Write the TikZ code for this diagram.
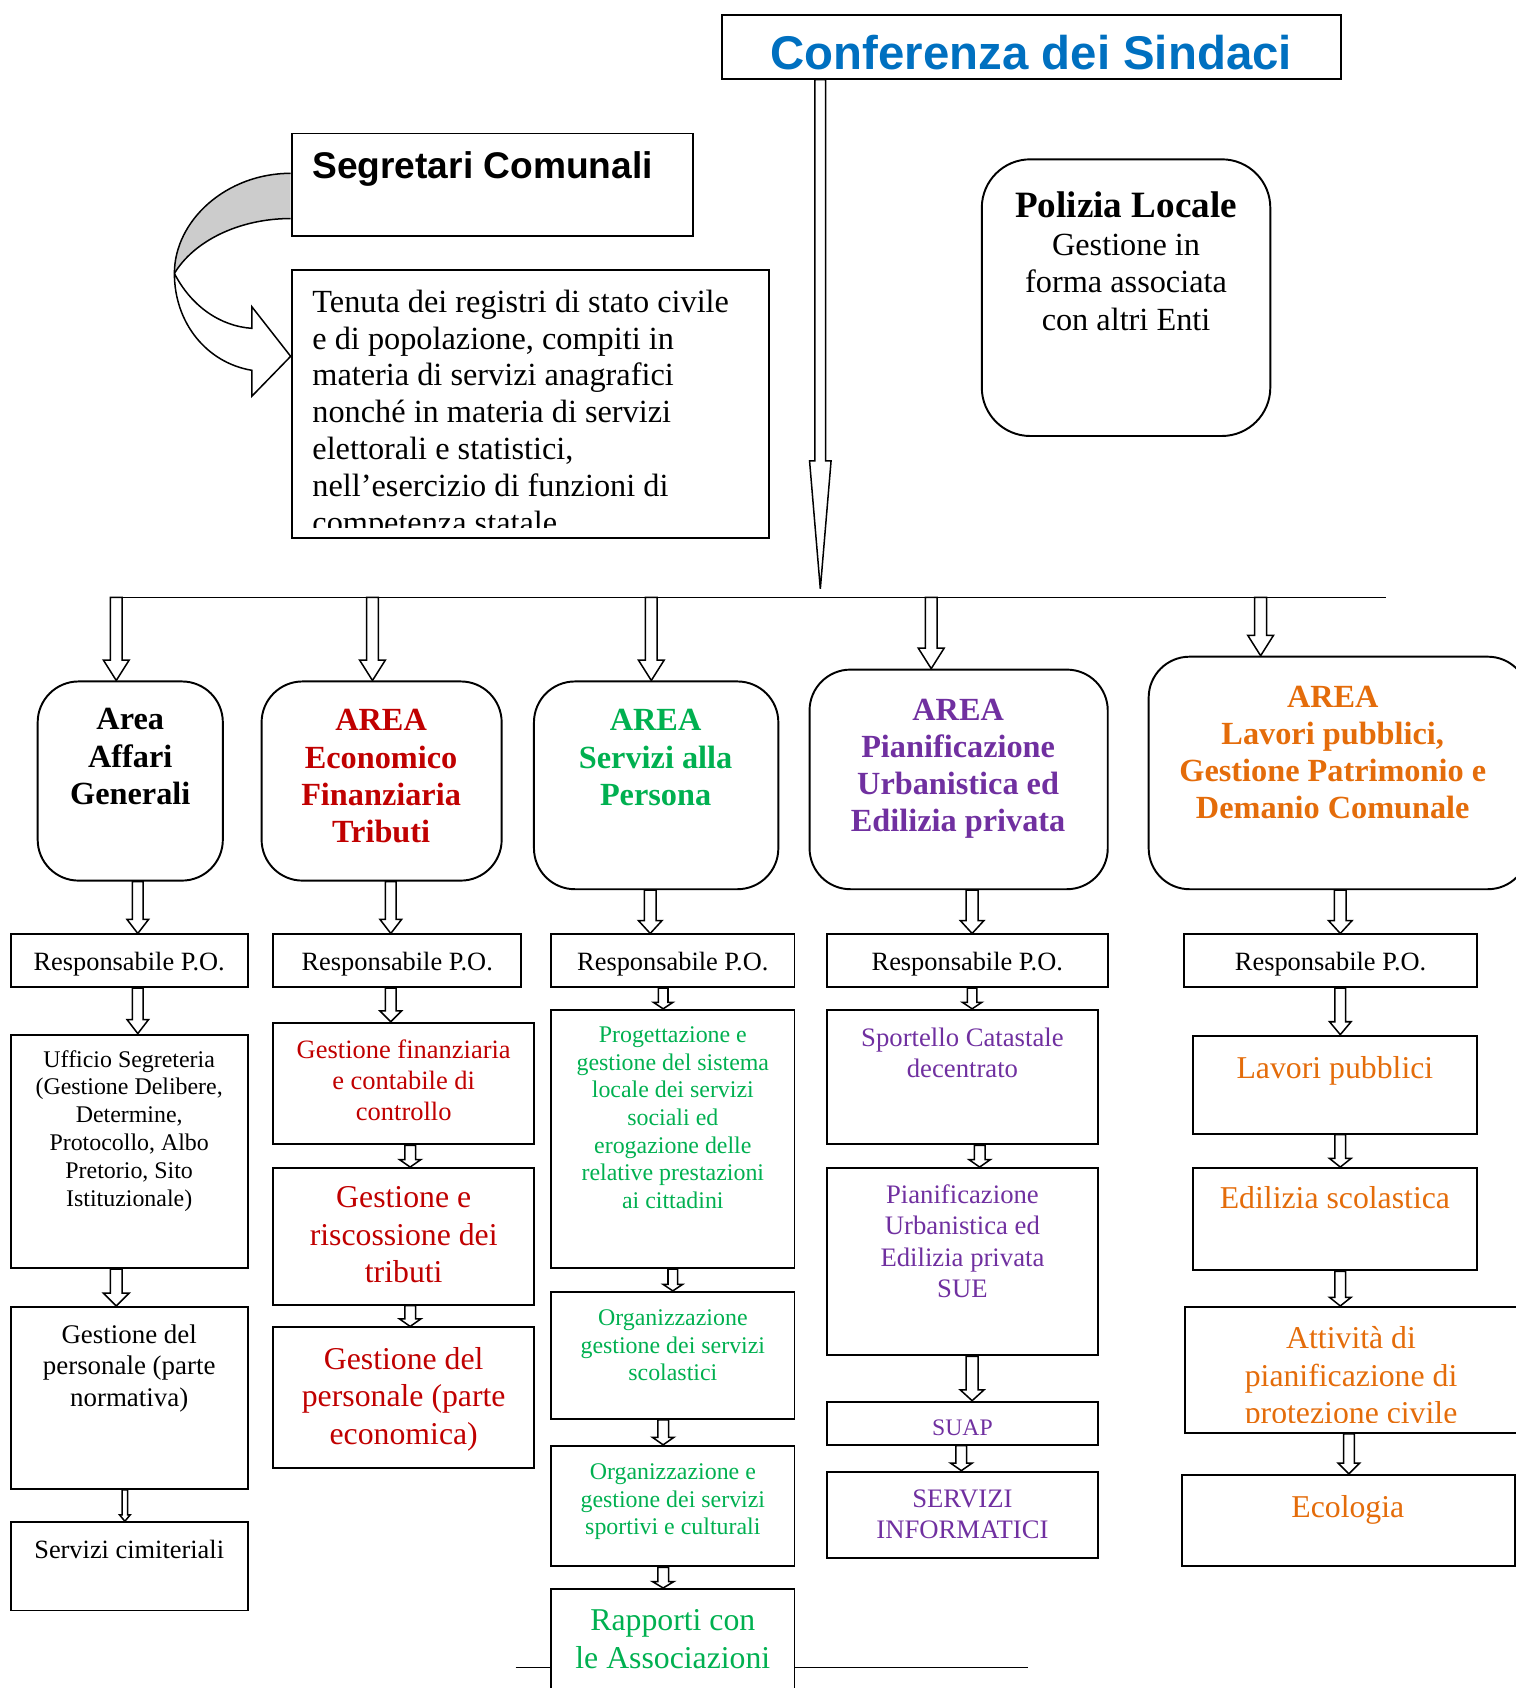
\documentclass[tikz,border=0pt]{standalone}
\usepackage{fontspec}
\setmainfont{Liberation Serif}
\newfontfamily\arialf{Liberation Sans}
\usetikzlibrary{calc}
\definecolor{cblue}{HTML}{0070C0}
\definecolor{cred}{HTML}{C00000}
\definecolor{cgreen}{HTML}{00B050}
\definecolor{cpurple}{HTML}{7030A0}
\definecolor{corange}{HTML}{E46C0A}
\newcommand\fsz[2]{\fontsize{#1}{#2}\selectfont}
\tikzset{
  bx/.style={draw, line width=1.8pt, inner sep=0pt, rectangle},
  rbx/.style={bx, rounded corners=38pt},
  barrow/.style={draw, line width=1.4pt, fill=white, line join=miter},
  txt/.style={inner sep=0pt, align=center, anchor=north},
  one/.style={inner sep=0pt, anchor=base},
  thinline/.style={line width=1.2pt},
}
% box from corners: [style] x1 y1 x2 y2 name
\newcommand\mkbox[6][]{\node[bx,#1,minimum width={#4-#2},minimum height={#5-#3}] (#6) at ({(#2+#4)/2},{(#3+#5)/2}) {};}
% block arrow: x, from, to, shaft width, head width, head length
\newcommand\barr[6]{%
  \draw[barrow] let \p1=(#2), \p2=(#3) in
  ({#1pt-#4pt/2},\y1) -- ({#1pt-#4pt/2},{\y2+#6pt}) -- ({#1pt-#5pt/2},{\y2+#6pt}) --
  ({#1pt},\y2) -- ({#1pt+#5pt/2},{\y2+#6pt}) -- ({#1pt+#4pt/2},{\y2+#6pt}) --
  ({#1pt+#4pt/2},\y1) -- cycle;}
\begin{document}
\begin{tikzpicture}[x=1pt,y=-1pt]
\useasboundingbox (0,0) rectangle (1408,1568);
\clip (0,0) rectangle (1408,1568);

% ---- top ----
\mkbox{671}{14}{1246}{73}{conf}
\node[one, font=\arialf\bfseries\fsz{44}{50}, text=cblue] (conft) at (958,65) {Conferenza dei Sindaci};

\mkbox{271}{124}{644}{219}{seg}
\node[inner sep=0pt, anchor=base west, font=\arialf\bfseries\fsz{34.5}{40}] (segt) at (290,166) {Segretari Comunali};

\mkbox{271}{251}{714}{500}{ten}
\begin{scope}
\clip (271,251) rectangle (714,490);
\node[inner sep=0pt, anchor=north west, align=left, font=\fsz{30}{34.2}] (tent) at (290,269)
 {Tenuta dei registri di stato civile\\e di popolazione, compiti in\\materia di servizi anagrafici\\nonché in materia di servizi\\elettorali e statistici,\\nell’esercizio di funzioni di\\competenza statale};
\end{scope}

\mkbox[rounded corners=45pt]{912}{148}{1180}{405}{pol}
\node[txt, font=\fsz{30}{35}] (polt) at (1046,178)
 {{\bfseries\fsz{34.5}{35}Polizia Locale}\\Gestione in\\forma associata\\con altri Enti};

% curved arrow
\fill[gray!40] (270,161) .. controls (210,161) and (162,205) .. (162,254)
  .. controls (180,224) and (222,203) .. (270,203) -- cycle;
\draw[line width=1.4pt, line join=miter] (270,161) .. controls (210,161) and (162,205) .. (162,254)
  .. controls (162,300) and (192,337) .. (234,344) -- (234,368) -- (270,331) -- (234,285) -- (234,305)
  .. controls (205,303) and (178,285) .. (162,254);
\draw[line width=1.4pt] (270,203) .. controls (222,203) and (180,224) .. (162,254);

% main arrow and bar
\coordinate (hub) at (762,547);
\barr{762}{conf.south}{hub}{10}{20}{119}
\coordinate (barL) at (102,555);
\coordinate (barR) at (1287,555);
\draw[thinline] (barL) -- (barR);
\coordinate (barY) at (0,555);

% ---- areas ----
\mkbox[rbx]{35}{633}{207}{818}{a1}
\mkbox[rbx]{243}{633}{466}{818}{a2}
\mkbox[rbx]{496}{633}{723}{826}{a3}
\mkbox[rbx]{752}{622}{1029}{826}{a4}
\mkbox[rbx]{1067}{610}{1420}{826}{a5}
\node[txt, font=\bfseries\fsz{30}{34.5}] (a1t) at (121,658) {Area\\Affari\\Generali};
\node[txt, font=\bfseries\fsz{30}{34.5}, text=cred] (a2t) at (354,659) {AREA\\Economico\\Finanziaria\\Tributi};
\node[txt, font=\bfseries\fsz{30}{34.5}, text=cgreen] (a3t) at (609,659) {AREA\\Servizi alla\\Persona};
\node[txt, font=\bfseries\fsz{30}{34.5}, text=cpurple] (a4t) at (890,649) {AREA\\Pianificazione\\Urbanistica ed\\Edilizia privata};
\node[txt, font=\bfseries\fsz{30}{34.5}, text=corange] (a5t) at (1238,637) {AREA\\Lavori pubblici,\\Gestione Patrimonio e\\Demanio Comunale};

\barr{108}{barY}{a1.north}{11}{24}{19}
\barr{346}{barY}{a2.north}{11}{24}{19}
\barr{605}{barY}{a3.north}{11}{24}{19}
\barr{865}{barY}{a4.north}{11}{24}{19}
\barr{1171}{barY}{a5.north}{11}{24}{19}

% ---- responsabili ----
\mkbox{10}{868}{230}{917}{r1}
\mkbox{254}{868}{484}{917}{r2}
\mkbox{512}{868}{738}{917}{r3}
\mkbox{768}{868}{1029}{917}{r4}
\mkbox{1100}{868}{1372}{917}{r5}
\foreach \n/\cx in {r1/120,r2/369,r3/625,r4/898.5,r5/1236}
  \node[one, font=\fsz{24.5}{29}] (\n t) at (\cx,901.5) {Responsabile P.O.};

\barr{128}{a1.south}{r1.north}{10}{20}{13}
\barr{363}{a2.south}{r2.north}{10}{20}{13}
\barr{604}{a3.south}{r3.north}{11}{22}{12}
\barr{903}{a4.south}{r4.north}{11}{22}{12}
\barr{1245}{a5.south}{r5.north}{11}{22}{12}

% ---- column 1 ----
\mkbox{10}{961}{230}{1178}{u1}
\mkbox{10}{1214}{230}{1383}{g1}
\mkbox{10}{1414}{230}{1496}{s1}
\node[txt, font=\fsz{22.2}{25.8}] (u1t) at (120,975.5) {Ufficio Segreteria\\(Gestione Delibere,\\Determine,\\Protocollo, Albo\\Pretorio, Sito\\Istituzionale)};
\node[txt, font=\fsz{25}{29}] (g1t) at (120,1230.5) {Gestione del\\personale (parte\\normativa)};
\node[one, font=\fsz{24.5}{29}] (s1t) at (120,1448) {Servizi cimiteriali};
\barr{128}{r1.south}{u1.north}{10}{20}{13}
\barr{108}{u1.south}{g1.north}{11}{24}{12}
\barr{116}{g1.south}{s1.north}{5}{10}{6}

% ---- column 2 ----
\mkbox{254}{950}{496}{1063}{f2}
\mkbox{254}{1085}{496}{1212}{t2}
\mkbox{254}{1233}{496}{1364}{p2}
\node[txt, font=\fsz{24.6}{29}, text=cred] (f2t) at (375,965.5) {Gestione finanziaria\\e contabile di\\controllo};
\node[txt, font=\fsz{29.5}{35}, text=cred] (t2t) at (375,1102) {Gestione e\\riscossione dei\\tributi};
\node[txt, font=\fsz{29.5}{35}, text=cred] (p2t) at (375,1251) {Gestione del\\personale (parte\\economica)};
\barr{363}{r2.south}{f2.north}{10}{20}{10}
\barr{381}{f2.south}{t2.north}{10}{20}{7}
\barr{381}{t2.south}{p2.north}{10}{20}{7}

% ---- column 3 ----
\mkbox{512}{938}{738}{1178}{pg3}
\mkbox{512}{1200}{738}{1318}{o3}
\mkbox{512}{1343}{738}{1455}{sp3}
\mkbox{512}{1476}{738}{1590}{ra3}
\node[txt, font=\fsz{22.2}{25.7}, text=cgreen] (pg3t) at (625,953.5) {Progettazione e\\gestione del sistema\\locale dei servizi\\sociali ed\\erogazione delle\\relative prestazioni\\ai cittadini};
\node[txt, font=\fsz{22.2}{25.7}, text=cgreen] (o3t) at (625,1216.5) {Organizzazione\\gestione dei servizi\\scolastici};
\node[txt, font=\fsz{22.2}{25.7}, text=cgreen] (sp3t) at (625,1359.5) {Organizzazione e\\gestione dei servizi\\sportivi e culturali};
\node[txt, font=\fsz{29.5}{35}, text=cgreen] (ra3t) at (625,1495) {Rapporti con\\le Associazioni};
\barr{616}{r3.south}{pg3.north}{9}{18}{6}
\barr{625}{pg3.south}{o3.north}{9}{18}{6}
\barr{616}{o3.south}{sp3.north}{10}{20}{7}
\barr{616}{sp3.south}{ra3.north}{10}{20}{6}
\coordinate (bl1) at (479,1549);
\coordinate (bl2) at (955,1549);
\draw[thinline] (bl1) -- (ra3.west |- bl1);
\draw[thinline] (ra3.east |- bl2) -- (bl2);

% ---- column 4 ----
\mkbox{768}{938}{1020}{1063}{sc4}
\mkbox{768}{1085}{1020}{1259}{pu4}
\mkbox{768}{1302}{1020}{1342}{su4}
\mkbox{768}{1367}{1020}{1447}{si4}
\node[txt, font=\fsz{24.8}{29}, text=cpurple] (sc4t) at (894,954.5) {Sportello Catastale\\decentrato};
\node[txt, font=\fsz{24.8}{29}, text=cpurple] (pu4t) at (894,1100.5) {Pianificazione\\Urbanistica ed\\Edilizia privata\\SUE};
\node[one, font=\fsz{22}{26}, text=cpurple] (su4t) at (894,1333) {SUAP};
\node[txt, font=\fsz{24.8}{29}, text=cpurple] (si4t) at (894,1383.5) {SERVIZI\\INFORMATICI};
\barr{903}{r4.south}{sc4.north}{9}{18}{6}
\barr{910}{sc4.south}{pu4.north}{10}{20}{7}
\barr{903}{pu4.south}{su4.north}{11}{22}{10}
\barr{893}{su4.south}{si4.north}{10}{20}{7}

% ---- column 5 ----
\mkbox{1108}{962}{1372}{1053}{lp5}
\mkbox{1108}{1085}{1372}{1180}{es5}
\mkbox{1101}{1214}{1420}{1331}{pc5}
\mkbox{1098}{1370}{1407}{1455}{ec5}
\node[one, font=\fsz{29.5}{35}, text=corange] (lp5t) at (1240,1002) {Lavori pubblici};
\node[one, font=\fsz{29.5}{35}, text=corange] (es5t) at (1240,1123) {Edilizia scolastica};
\begin{scope}
\clip (1101,1214) rectangle (1420,1321);
\node[txt, font=\fsz{29.5}{35}, text=corange] (pc5t) at (1255,1232) {Attività di\\pianificazione di\\protezione civile};
\end{scope}
\node[one, font=\fsz{29.5}{35}, text=corange] (ec5t) at (1252,1410) {Ecologia};
\barr{1245}{r5.south}{lp5.north}{10}{20}{12}
\barr{1245}{lp5.south}{es5.north}{10}{20}{8}
\barr{1245}{es5.south}{pc5.north}{10}{20}{8}
\barr{1253}{pc5.south}{ec5.north}{10}{20}{10}
\end{tikzpicture}
\end{document}
